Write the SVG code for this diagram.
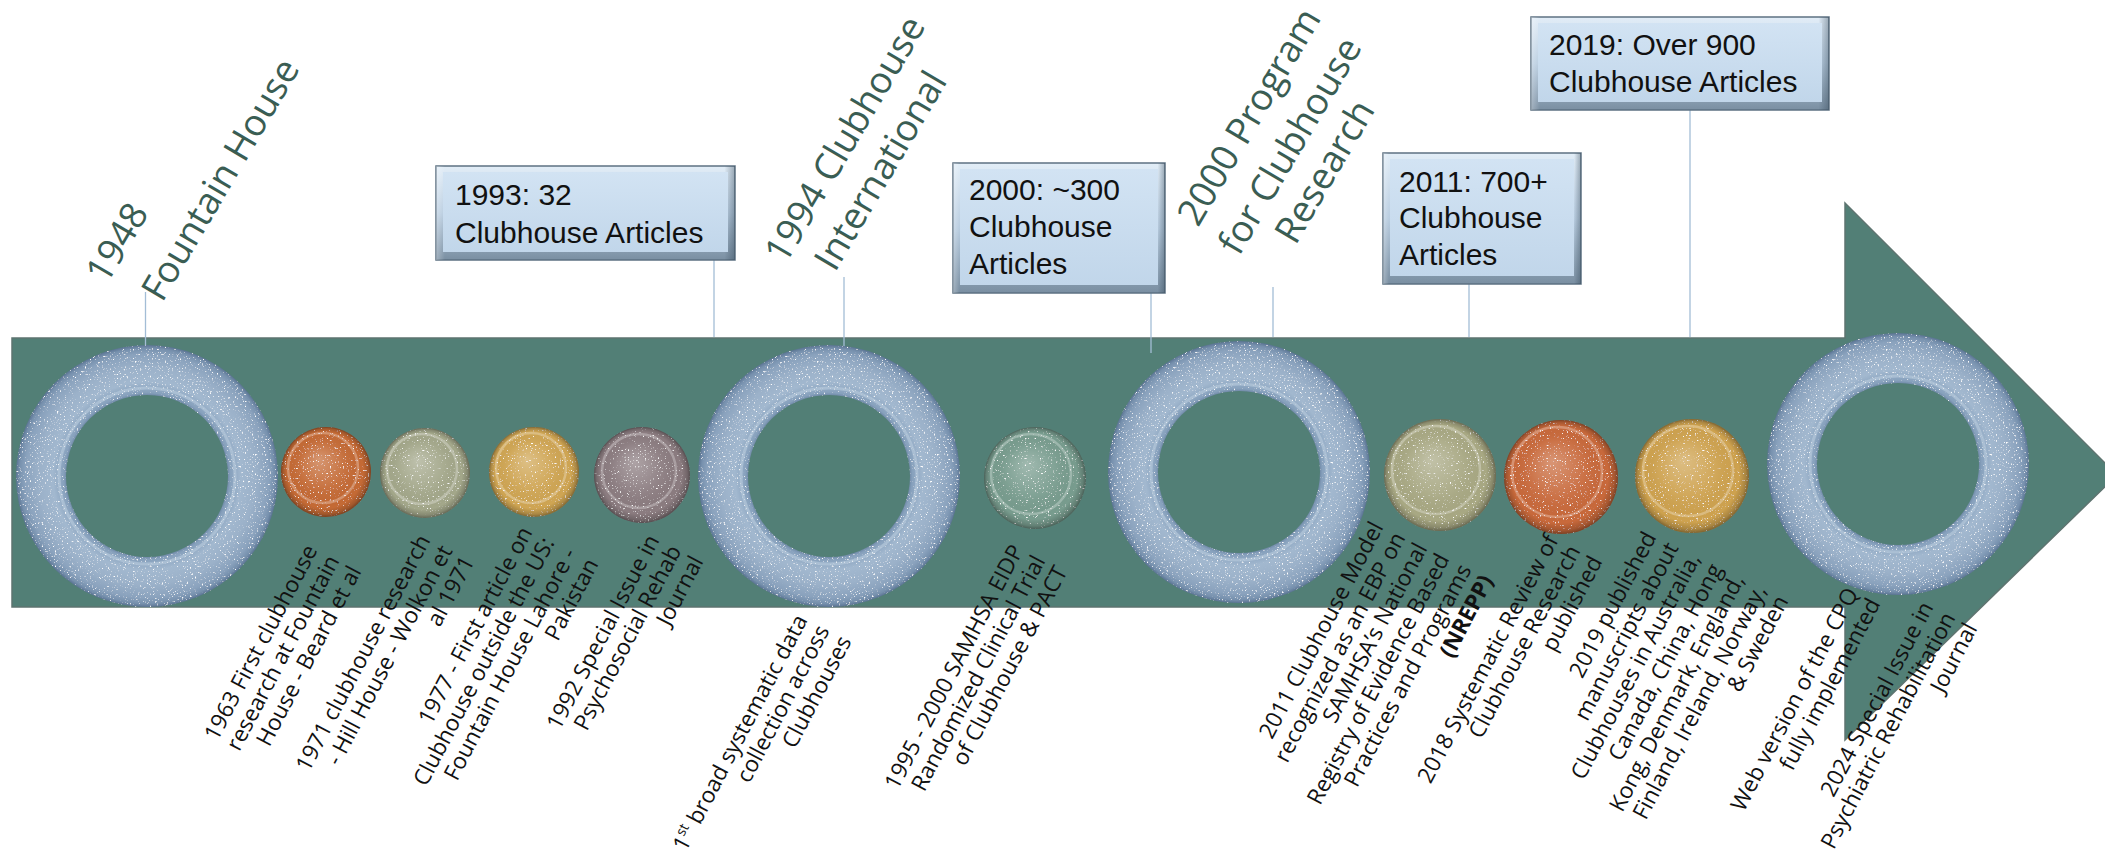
<svg xmlns="http://www.w3.org/2000/svg" xmlns:xlink="http://www.w3.org/1999/xlink" width="2105" height="864" viewBox="0 0 2105 864">
<defs>
<style>
.ttl{font-family:"Open Sans","Noto Sans","DejaVu Sans",sans-serif;font-size:37px;fill:#3a5d53}
.lbl{font-family:"Open Sans","Noto Sans","DejaVu Sans",sans-serif;font-size:22.5px;fill:#111;text-anchor:end}
.bt{font-family:"Liberation Sans","Arial",sans-serif;font-size:30px;fill:#111}
.conn{stroke:#a3bdd6;stroke-width:1.3;fill:none}
.edge{fill:url(#edgeV);stroke:#5d7182;stroke-width:1.5}
.edgeh{fill:url(#edgeH)}
.face{fill:url(#faceG)}
.ring{fill:url(#ringG);filter:url(#speck)}
.ringHi{fill:none;stroke:#d8e4f0;stroke-opacity:0.35;stroke-width:3}
.coin{filter:url(#speck2)}
.coinShade{fill:url(#coinShade)}
.lens{fill:none;stroke:#ffffff;stroke-opacity:0.28;stroke-width:2.5}
</style>
<linearGradient id="edgeV" x1="0" y1="0" x2="0" y2="1">
<stop offset="0" stop-color="#e2edf7"/>
<stop offset="0.5" stop-color="#b9cde0"/>
<stop offset="1" stop-color="#7a8fa2"/>
</linearGradient>
<linearGradient id="edgeH" x1="0" y1="0" x2="1" y2="0">
<stop offset="0" stop-color="#ffffff" stop-opacity="0.3"/>
<stop offset="0.03" stop-color="#ffffff" stop-opacity="0"/>
<stop offset="0.965" stop-color="#2c4050" stop-opacity="0"/>
<stop offset="1" stop-color="#2c4050" stop-opacity="0.4"/>
</linearGradient>
<linearGradient id="faceG" x1="0" y1="0" x2="0" y2="1">
<stop offset="0" stop-color="#d2e3f3"/>
<stop offset="1" stop-color="#c1d6ea"/>
</linearGradient>
<radialGradient id="ringG" cx="0.5" cy="0.5" r="0.5">
<stop offset="0.6" stop-color="#5c7594"/>
<stop offset="0.635" stop-color="#86a0bc"/>
<stop offset="0.72" stop-color="#a2b8cf"/>
<stop offset="0.83" stop-color="#9bb1c9"/>
<stop offset="0.93" stop-color="#8aa2bd"/>
<stop offset="0.975" stop-color="#7690ad"/>
<stop offset="1" stop-color="#5b7493"/>
</radialGradient>
<radialGradient id="coinShade" cx="0.5" cy="0.5" r="0.5" fx="0.42" fy="0.36">
<stop offset="0" stop-color="#ffffff" stop-opacity="0.3"/>
<stop offset="0.5" stop-color="#ffffff" stop-opacity="0.06"/>
<stop offset="0.85" stop-color="#000000" stop-opacity="0"/>
<stop offset="0.95" stop-color="#000000" stop-opacity="0.18"/>
<stop offset="1" stop-color="#000000" stop-opacity="0.38"/>
</radialGradient>
<filter id="speck" x="-5%" y="-5%" width="110%" height="110%">
<feTurbulence type="fractalNoise" baseFrequency="0.6" numOctaves="2" seed="7" result="noise"/>
<feColorMatrix in="noise" type="matrix" values="0 0 0 0 1  0 0 0 0 1  0 0 0 0 1  6 0 0 0 -3.8" result="dots"/>
<feComposite in="dots" in2="SourceAlpha" operator="in" result="dotsIn"/>
<feMerge><feMergeNode in="SourceGraphic"/><feMergeNode in="dotsIn"/></feMerge>
</filter>
<filter id="speck2" x="-5%" y="-5%" width="110%" height="110%">
<feTurbulence type="fractalNoise" baseFrequency="0.6" numOctaves="2" seed="11" result="noise"/>
<feColorMatrix in="noise" type="matrix" values="0 0 0 0 1  0 0 0 0 1  0 0 0 0 1  6 0 0 0 -3.95" result="dots"/>
<feComposite in="dots" in2="SourceAlpha" operator="in" result="dotsIn"/>
<feMerge><feMergeNode in="SourceGraphic"/><feMergeNode in="dotsIn"/></feMerge>
</filter>
<path id="ringShape" fill-rule="evenodd" d="M-131,0a131,131 0 1,0 262,0a131,131 0 1,0 -262,0ZM-81,0a81,81 0 1,0 162,0a81,81 0 1,0 -162,0Z"/>
</defs>

<rect x="0" y="0" width="2105" height="864" fill="#ffffff"/>

<g id="timeline-arrow">
<polygon points="12,338 1845,338 1845,203 2117,475 1845,740 1845,607 12,607" fill="#527f76" stroke="#5e7470" stroke-width="1.5"/>
</g>

<g id="connectors">
<line class="conn" x1="145.5" y1="292" x2="145.5" y2="367"/>
<line class="conn" x1="714" y1="260" x2="714" y2="337"/>
<line class="conn" x1="844" y1="277" x2="844" y2="350"/>
<line class="conn" x1="1151" y1="293" x2="1151" y2="353"/>
<line class="conn" x1="1273" y1="287" x2="1273" y2="337"/>
<line class="conn" x1="1469" y1="284" x2="1469" y2="337"/>
<line class="conn" x1="1690" y1="110" x2="1690" y2="337"/>
</g>

<g id="ring-1948">
<use xlink:href="#ringShape" href="#ringShape" class="ring" transform="translate(147,476)"/>
<circle class="ringHi" cx="147" cy="476" r="88"/>
<text class="ttl" transform="translate(102.4,292.5) rotate(-59.5)"><tspan x="8" y="0">1948</tspan><tspan x="21" y="57">Fountain House</tspan></text>
</g>

<g id="coin-1963">
<circle class="coin" cx="326" cy="472" r="45" fill="#c46a36"/>
<circle class="coinShade" cx="326" cy="472" r="45"/>
<circle class="lens" cx="323" cy="468" r="35"/>
<text class="lbl" transform="translate(318,550) rotate(-62.3)"><tspan x="0" y="0">1963 First clubhouse</tspan><tspan x="0.8" dy="24.4">research at Fountain</tspan><tspan x="1.6" dy="24.4">House - Beard et al</tspan></text>
</g>

<g id="coin-1971">
<circle class="coin" cx="425" cy="473" r="45" fill="#a3a78a"/>
<circle class="coinShade" cx="425" cy="473" r="45"/>
<circle class="lens" cx="422" cy="469" r="35"/>
<text class="lbl" transform="translate(431,540) rotate(-62.3)"><tspan x="0" y="0">1971 clubhouse research</tspan><tspan x="0.8" dy="24.4">- Hill House - Wolkon et</tspan><tspan x="1.6" dy="24.4">al 1971</tspan></text>
</g>

<g id="coin-1977">
<circle class="coin" cx="534" cy="472" r="45" fill="#cfa552"/>
<circle class="coinShade" cx="534" cy="472" r="45"/>
<circle class="lens" cx="531" cy="468" r="35"/>
<text class="lbl" transform="translate(533,532) rotate(-62.3)"><tspan x="0" y="0">1977 - First article on</tspan><tspan x="0.8" dy="24.4">Clubhouse outside the US:</tspan><tspan x="1.6" dy="24.4">Fountain House Lahore -</tspan><tspan x="2.4" dy="24.4">Pakistan</tspan></text>
</g>

<g id="coin-1992">
<circle class="coin" cx="642" cy="475" r="48" fill="#8b7c80"/>
<circle class="coinShade" cx="642" cy="475" r="48"/>
<circle class="lens" cx="639" cy="471" r="37"/>
<text class="lbl" transform="translate(660,540) rotate(-62.3)"><tspan x="0" y="0">1992 Special Issue in</tspan><tspan x="0.8" dy="24.4">Psychosocial Rehab</tspan><tspan x="1.6" dy="24.4">Journal</tspan></text>
</g>

<g id="box-1993">
<rect class="edge" x="436" y="166" width="299" height="94"/>
<rect class="edgeh" x="436" y="166" width="299" height="94"/>
<rect class="face" x="443" y="172" width="285" height="80"/>
<text class="bt" x="455" y="205">1993: 32</text>
<text class="bt" x="455" y="243">Clubhouse Articles</text>
</g>

<g id="ring-1994">
<use xlink:href="#ringShape" href="#ringShape" class="ring" transform="translate(829,476)"/>
<circle class="ringHi" cx="829" cy="476" r="88"/>
<text class="ttl" transform="translate(781.1,272.5) rotate(-59.5)"><tspan x="8" y="0">1994 Clubhouse</tspan><tspan x="27" y="46.6">International</tspan></text>
<text class="lbl" transform="translate(808,620) rotate(-62.3)"><tspan x="0" y="0">1<tspan font-size="14" baseline-shift="super">st</tspan> broad systematic data</tspan><tspan x="0.8" dy="24.4">collection across</tspan><tspan x="1.6" dy="24.4">Clubhouses</tspan></text>
</g>

<g id="box-2000">
<rect class="edge" x="953" y="163" width="212" height="130"/>
<rect class="edgeh" x="953" y="163" width="212" height="130"/>
<rect class="face" x="960" y="169" width="198" height="116"/>
<text class="bt" x="969" y="200">2000: ~300</text>
<text class="bt" x="969" y="237">Clubhouse</text>
<text class="bt" x="969" y="274">Articles</text>
</g>

<g id="coin-1995">
<circle class="coin" cx="1035" cy="478" r="51" fill="#789c8e"/>
<circle class="coinShade" cx="1035" cy="478" r="51"/>
<circle class="lens" cx="1031" cy="474" r="40"/>
<text class="lbl" transform="translate(1024,550) rotate(-62.3)"><tspan x="0" y="0">1995 - 2000 SAMHSA EIDP</tspan><tspan x="0.8" dy="24.4">Randomized Clinical Trial</tspan><tspan x="1.6" dy="24.4">of Clubhouse &amp; PACT</tspan></text>
</g>

<g id="ring-2000">
<use xlink:href="#ringShape" href="#ringShape" class="ring" transform="translate(1239,472)"/>
<circle class="ringHi" cx="1239" cy="472" r="88"/>
<text class="ttl" transform="translate(1194,235) rotate(-59.5)"><tspan x="8" y="0">2000 Program</tspan><tspan x="4" y="50">for Clubhouse</tspan><tspan x="42" y="93">Research</tspan></text>
</g>

<g id="box-2011">
<rect class="edge" x="1383" y="153" width="198" height="131"/>
<rect class="edgeh" x="1383" y="153" width="198" height="131"/>
<rect class="face" x="1390" y="159" width="184" height="117"/>
<text class="bt" x="1399" y="192">2011: 700+</text>
<text class="bt" x="1399" y="228">Clubhouse</text>
<text class="bt" x="1399" y="265">Articles</text>
</g>

<g id="coin-2011">
<circle class="coin" cx="1440" cy="475" r="56" fill="#a8a883"/>
<circle class="coinShade" cx="1440" cy="475" r="56"/>
<circle class="lens" cx="1436" cy="470" r="44"/>
<text class="lbl" transform="translate(1384,527) rotate(-62.3)"><tspan x="0" y="0">2011 Clubhouse Model</tspan><tspan x="0.8" dy="24.4">recognized as an EBP on</tspan><tspan x="1.6" dy="24.4">SAMHSA’s National</tspan><tspan x="2.4" dy="24.4">Registry of Evidence Based</tspan><tspan x="3.2" dy="24.4">Practices and Programs</tspan><tspan x="4" dy="24.4" font-weight="bold">(NREPP)</tspan></text>
</g>

<g id="coin-2018">
<circle class="coin" cx="1561" cy="477" r="57" fill="#c8693b"/>
<circle class="coinShade" cx="1561" cy="477" r="57"/>
<circle class="lens" cx="1557" cy="472" r="45"/>
<text class="lbl" transform="translate(1559,540) rotate(-62.3)"><tspan x="0" y="0">2018 Systematic Review of</tspan><tspan x="0.8" dy="24.4">Clubhouse Research</tspan><tspan x="1.6" dy="24.4">published</tspan></text>
</g>

<g id="box-2019">
<rect class="edge" x="1531" y="17" width="298" height="93"/>
<rect class="edgeh" x="1531" y="17" width="298" height="93"/>
<rect class="face" x="1538" y="23" width="284" height="79"/>
<text class="bt" x="1549" y="55">2019: Over 900</text>
<text class="bt" x="1549" y="92">Clubhouse Articles</text>
</g>

<g id="coin-2019">
<circle class="coin" cx="1692" cy="476" r="57" fill="#cea24f"/>
<circle class="coinShade" cx="1692" cy="476" r="57"/>
<circle class="lens" cx="1688" cy="471" r="45"/>
<text class="lbl" transform="translate(1657,537) rotate(-62.3)"><tspan x="0" y="0">2019 published</tspan><tspan x="0.8" dy="24.4">manuscripts about</tspan><tspan x="1.6" dy="24.4">Clubhouses in Australia,</tspan><tspan x="2.4" dy="24.4">Canada, China, Hong</tspan><tspan x="3.2" dy="24.4">Kong, Denmark, England,</tspan><tspan x="4" dy="24.4">Finland, Ireland, Norway,</tspan><tspan x="4.8" dy="24.4">&amp; Sweden</tspan></text>
</g>

<g id="ring-2024">
<use xlink:href="#ringShape" href="#ringShape" class="ring" transform="translate(1898,464)"/>
<circle class="ringHi" cx="1898" cy="464" r="88"/>
<text class="lbl" transform="translate(1859,593) rotate(-62.3)"><tspan x="0" y="0">Web version of the CPQ</tspan><tspan x="0.8" dy="24.4">fully implemented</tspan></text>
<text class="lbl" transform="translate(1934,607) rotate(-62.3)"><tspan x="0" y="0">2024 Special Issue in</tspan><tspan x="0.8" dy="24.4">Psychiatric Rehabilitation</tspan><tspan x="1.6" dy="24.4">Journal</tspan></text>
</g>
</svg>
